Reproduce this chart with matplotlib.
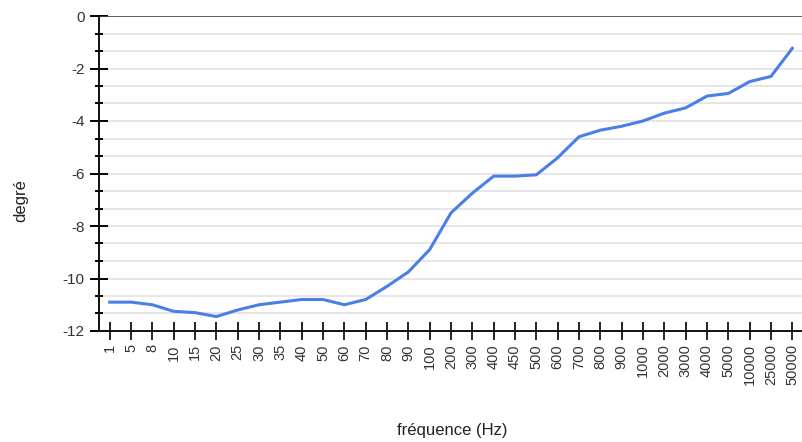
import matplotlib
matplotlib.use("Agg")
import matplotlib.pyplot as plt
import numpy as np

plt.rcParams['font.family'] = ['Liberation Sans', 'DejaVu Sans']

freqs = ["1", "5", "8", "10", "15", "20", "25", "30", "35", "40", "50", "60", "70",
         "80", "90", "100", "200", "300", "400", "450", "500", "600", "700", "800",
         "900", "1000", "2000", "3000", "4000", "5000", "10000", "25000", "50000"]
degres = [-10.9, -10.9, -11.0, -11.25, -11.3, -11.45, -11.2, -11.0, -10.9, -10.8, -10.8,
          -11.0, -10.8, -10.3, -9.75, -8.9, -7.5, -6.75, -6.1, -6.1, -6.05, -5.4, -4.6,
          -4.35, -4.2, -4.0, -3.7, -3.5, -3.05, -2.95, -2.5, -2.3, -1.23]
y_ticks = [0, -2, -4, -6, -8, -10, -12]

fig = plt.figure(figsize=(8.02, 4.42), dpi=100)
ax = fig.add_axes([99/802, 1-331/442, 704/802, 315/442])

x = np.arange(len(freqs))
ax.plot(x, degres, color='#4a7fe8', lw=2.2, solid_joinstyle='round', zorder=3)

ax.set_xlim(-0.5, len(freqs) - 0.5)
ax.set_ylim(-12, 0)

# minor gridlines every 2/3 unit
minor = [-(2/3)*k for k in range(1, 18) if k % 3 != 0]
for v in [t for t in y_ticks if t not in (0, -12)] + minor:
    ax.axhline(v, color='#e2e2e2', lw=1.2, zorder=1)
ax.axhline(0, color='#444444', lw=1.2, zorder=2)

ax.set_yticks(y_ticks)
ax.set_yticks(minor, minor=True)
ax.set_xticks(x)
ax.set_xticklabels(freqs, rotation=90, fontsize=10.5, color='#333333')
ax.set_yticklabels([str(t) for t in y_ticks], fontsize=11, color='#333333')

ax.tick_params(axis='y', which='major', direction='inout', length=13, width=1.4, pad=4)
ax.tick_params(axis='y', which='minor', direction='inout', length=6, width=1.4)
ax.tick_params(axis='x', which='major', direction='inout', length=13, width=1.2, pad=3)

for s in ['top', 'right']:
    ax.spines[s].set_visible(False)
for s in ['left', 'bottom']:
    ax.spines[s].set_color('#111111')
    ax.spines[s].set_linewidth(1.4)

fig.text(21/802, 1-201/442, 'degré', rotation=90, ha='center', va='center', fontsize=12, color='#222222')
fig.text(452/802, 1-431/442, 'fréquence (Hz)', ha='center', va='center', fontsize=12, color='#222222')

fig.savefig('out.png', dpi=100)
